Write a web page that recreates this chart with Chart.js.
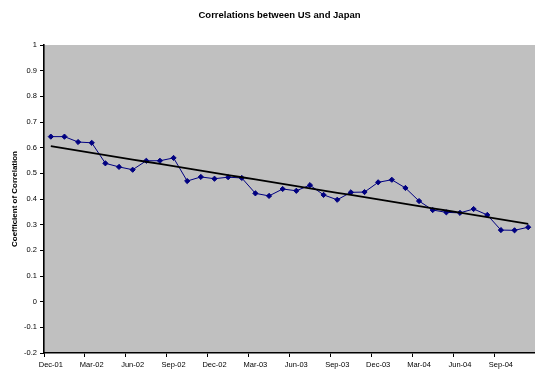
<!DOCTYPE html>
<html>
<head>
<meta charset="utf-8">
<title>Correlations between US and Japan</title>
<script src="https://cdn.jsdelivr.net/npm/chart.js@4/dist/chart.umd.min.js"></script>
<style>
  html, body { margin: 0; padding: 0; background: #fff; overflow: hidden; }
  #wrap { width: 540px; height: 370px; }
</style>
</head>
<body>
<div id="wrap"><canvas id="chart" width="540" height="370"></canvas></div>
<script>
// Monthly categories, Dec 2001 to Nov 2004
const categories = [
  'Dec-01','Jan-02','Feb-02','Mar-02','Apr-02','May-02','Jun-02','Jul-02','Aug-02','Sep-02','Oct-02','Nov-02',
  'Dec-02','Jan-03','Feb-03','Mar-03','Apr-03','May-03','Jun-03','Jul-03','Aug-03','Sep-03','Oct-03','Nov-03',
  'Dec-03','Jan-04','Feb-04','Mar-04','Apr-04','May-04','Jun-04','Jul-04','Aug-04','Sep-04','Oct-04','Nov-04'
];

// Coefficient of correlation, US vs Japan, one value per month
const correlation = [
  0.643, 0.643, 0.622, 0.619, 0.539, 0.525, 0.514, 0.549, 0.549, 0.560, 0.470, 0.486,
  0.479, 0.485, 0.482, 0.422, 0.412, 0.439, 0.432, 0.454, 0.416, 0.397, 0.426, 0.427,
  0.465, 0.475, 0.443, 0.392, 0.357, 0.348, 0.346, 0.361, 0.338, 0.279, 0.278, 0.290
];

// Value axis range and step
const yMin = -0.2;
const yMax = 1;
const yStep = 0.1;

// Every third month carries a label and a tick mark
const labelEvery = 3;

const chartTitle = 'Correlations between US and Japan';

// Least-squares linear trend through the monthly values
function linearTrend(values) {
  const n = values.length;
  let sx = 0, sy = 0, sxx = 0, sxy = 0;
  values.forEach((v, i) => { sx += i; sy += v; sxx += i * i; sxy += i * v; });
  const slope = (n * sxy - sx * sy) / (n * sxx - sx * sx);
  const intercept = (sy - slope * sx) / n;
  return values.map((_, i) => intercept + slope * i);
}
const trend = linearTrend(correlation);

const FONT = 'Liberation Sans, Arial, Helvetica, sans-serif';

// Grey plot area behind the series, and the chart heading above it
const plotFrame = {
  id: 'plotFrame',
  beforeDraw(chart) {
    const { ctx, chartArea: a } = chart;
    ctx.save();
    ctx.fillStyle = '#C0C0C0';
    ctx.fillRect(a.left, a.top, a.right - a.left, a.bottom - a.top);
    ctx.restore();
  },
  afterDraw(chart) {
    const { ctx } = chart;
    ctx.save();
    ctx.fillStyle = '#000';
    ctx.font = 'bold 9.5px ' + FONT;
    ctx.textAlign = 'center';
    ctx.textBaseline = 'middle';
    ctx.fillText(chartTitle, 279.5, 15);
    ctx.restore();
  }
};

new Chart(document.getElementById('chart'), {
  type: 'line',
  data: {
    labels: categories,
    datasets: [
      {
        label: 'Linear trend',
        data: trend,
        borderColor: '#000000',
        borderWidth: 1.8,
        pointRadius: 0,
        fill: false,
        tension: 0
      },
      {
        label: 'Correlation',
        data: correlation,
        borderColor: '#000080',
        backgroundColor: '#000080',
        borderWidth: 1,
        pointStyle: 'rectRot',
        pointRadius: 2.6,
        pointBorderWidth: 1,
        pointBackgroundColor: '#000080',
        pointBorderColor: '#000080',
        fill: false,
        tension: 0
      }
    ]
  },
  options: {
    responsive: false,
    animation: false,
    devicePixelRatio: 1,
    layout: { padding: { left: 0, right: 3, top: 45, bottom: 0 } },
    plugins: {
      legend: { display: false },
      tooltip: { enabled: false },
      title: { display: false }
    },
    scales: {
      x: {
        type: 'category',
        offset: true,
        afterFit(scale) { scale.height = 17; },
        grid: {
          offset: true,
          drawOnChartArea: false,
          drawTicks: true,
          tickLength: 4,
          tickColor: (ctx) => (ctx.index % labelEvery === 0 ? '#000' : 'rgba(0,0,0,0)'),
          color: '#000'
        },
        border: { display: true, color: '#000', width: 1.6 },
        ticks: {
          autoSkip: false,
          maxRotation: 0,
          minRotation: 0,
          padding: 3,
          color: '#000',
          font: { family: FONT, size: 7.5 },
          callback: (value, index) => (index % labelEvery === 0 ? categories[index] : '')
        }
      },
      y: {
        min: yMin,
        max: yMax,
        afterFit(scale) { scale.width = 44; },
        grid: {
          drawOnChartArea: false,
          drawTicks: true,
          tickLength: 4,
          color: '#000',
          tickColor: '#000'
        },
        border: { display: true, color: '#000', width: 1.6 },
        ticks: {
          stepSize: yStep,
          padding: 3,
          color: '#000',
          font: { family: FONT, size: 7.5 },
          callback: (v) => String(parseFloat(Number(v).toFixed(1)))
        },
        title: {
          display: true,
          text: 'Coefficient of Correlation',
          color: '#000',
          font: { family: FONT, size: 8, weight: 'bold', lineHeight: 1.2 },
          padding: { top: 9.5, bottom: 0 }
        }
      }
    }
  },
  plugins: [plotFrame]
});
</script>
</body>
</html>
